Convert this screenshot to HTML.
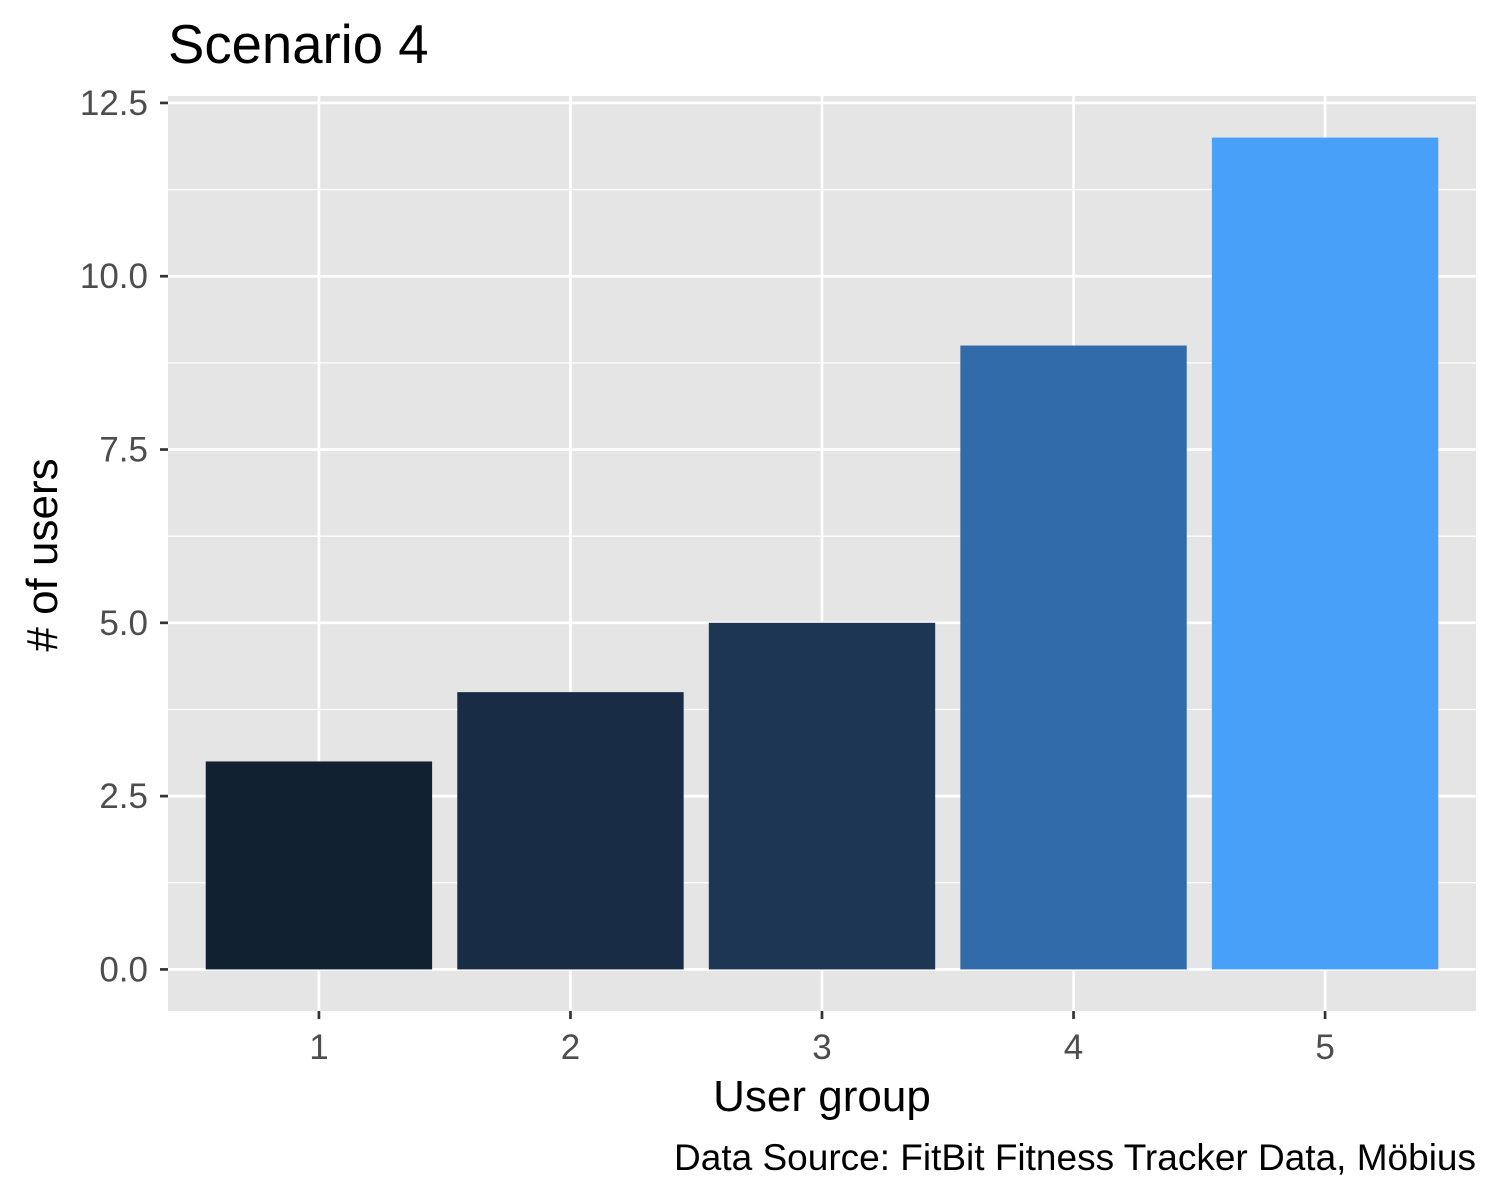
<!DOCTYPE html>
<html><head><meta charset="utf-8"><style>
html,body{margin:0;padding:0;background:#fff;}
svg{display:block;font-family:"Liberation Sans",Arial,sans-serif;}
</style></head><body>
<svg id="chart" width="1500" height="1200" viewBox="0 0 1500 1200">
<rect x="0" y="0" width="1500" height="1200" fill="#fff"/>
<rect x="168" y="96" width="1308" height="915" fill="#e5e5e5"/>
<g id="grid"></g>
<g id="bars"></g>
<g id="axes"></g>
<text x="168" y="63" font-size="54.5" fill="#000">Scenario 4</text>
<text x="822" y="1111" font-size="44" fill="#000" text-anchor="middle">User group</text>
<text transform="translate(57,555) rotate(-90)" font-size="44" fill="#000" text-anchor="middle"># of users</text>
<text x="1476" y="1170" font-size="37" fill="#000" text-anchor="end">Data Source: FitBit Fitness Tracker Data, Möbius</text>
</svg>
<script>
const categories = ["1","2","3","4","5"];
const values = [3, 4, 5, 9, 12];
const colors = ["#122132","#182c46","#1d3654","#316baa","#48a0f8"];
const yTicks = [0, 2.5, 5, 7.5, 10, 12.5];
const yTickLabels = ["0.0","2.5","5.0","7.5","10.0","12.5"];

const NS = "http://www.w3.org/2000/svg";
const panelL = 168, panelR = 1476, panelT = 96, panelB = 1011;
const yMin = -0.6, yMax = 12.6;
function y(v){ return panelB - (v - yMin) / (yMax - yMin) * (panelB - panelT); }
const step = (panelR - panelL) / (categories.length + 0.2);
function x(i){ return panelL + step * (0.6 + i); }
function mk(tag, attrs, parent){ const e = document.createElementNS(NS, tag); for (const k in attrs) e.setAttribute(k, attrs[k]); parent.appendChild(e); return e; }

const grid = document.getElementById("grid");
const bars = document.getElementById("bars");
const axes = document.getElementById("axes");

for (let i = 0; i < yTicks.length - 1; i++) {
  const m = (yTicks[i] + yTicks[i+1]) / 2;
  const l = mk("line", {x1: panelL, x2: panelR, y1: y(m), y2: y(m), stroke: "#fff", "stroke-width": 1.3}, grid);
  
  
}
yTicks.forEach((t, i) => {
  const l = mk("line", {x1: panelL, x2: panelR, y1: y(t), y2: y(t), stroke: "#fff", "stroke-width": 2.7}, grid);
  
  
  const tk = mk("line", {x1: panelL - 8, x2: panelL, y1: y(t), y2: y(t), stroke: "#333", "stroke-width": 2.7}, axes);
  
  
  const tx = mk("text", {x: panelL - 20, y: y(t) + 12, "font-size": 35, fill: "#4d4d4d", "text-anchor": "end"}, axes);
  tx.textContent = yTickLabels[i];
  
  
});
categories.forEach((c, i) => {
  const l = mk("line", {x1: x(i), x2: x(i), y1: panelT, y2: panelB, stroke: "#fff", "stroke-width": 2.7}, grid);
  
  
  const w = step * 0.9;
  const r = mk("rect", {x: x(i) - w/2, y: y(values[i]), width: w, height: y(0) - y(values[i]), fill: colors[i]}, bars);
  
  
  const tk = mk("line", {x1: x(i), x2: x(i), y1: panelB, y2: panelB + 8, stroke: "#333", "stroke-width": 2.7}, axes);
  
  
  const tx = mk("text", {x: x(i), y: panelB + 48, "font-size": 35, fill: "#4d4d4d", "text-anchor": "middle"}, axes);
  tx.textContent = c;
  
  
});
</script>
</body></html>
